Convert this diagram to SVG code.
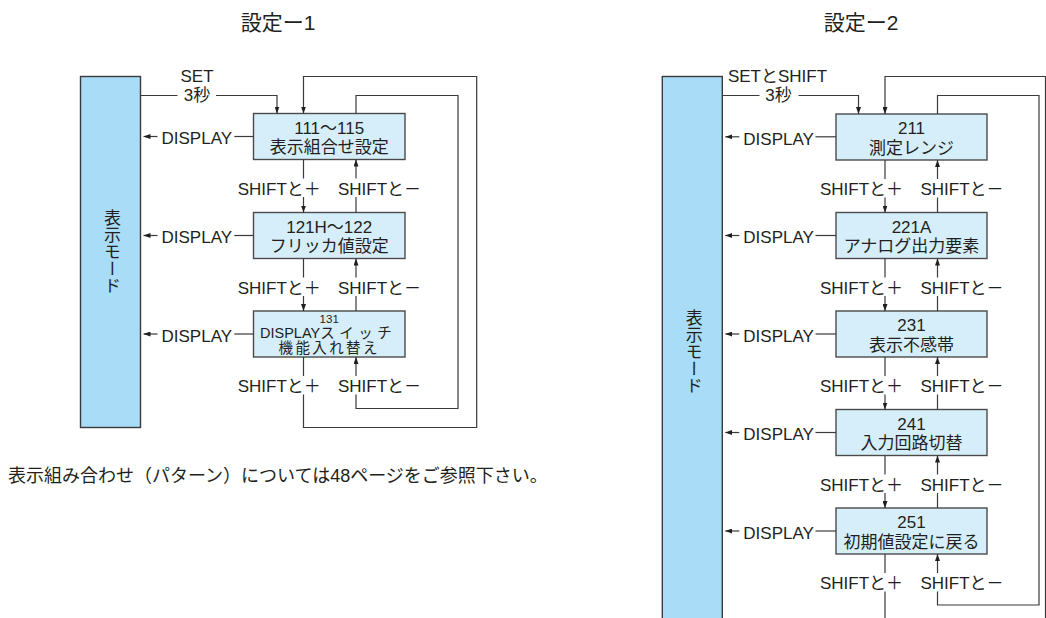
<svg xmlns="http://www.w3.org/2000/svg" width="1046" height="618" viewBox="0 0 1046 618">
<style>
text{font-family:"Liberation Sans","Noto Sans CJK JP",sans-serif;fill:#231f20;font-size:17px}
.t{font-size:21px;text-anchor:middle}
.c{text-anchor:middle}
.bar{fill:#a9dcf6;stroke:#3a3a3a;stroke-width:1.4}
.box{fill:#d5eefa;stroke:#4a4a4a;stroke-width:1.4}
.ln{fill:none;stroke:#3a3a3a;stroke-width:1.2}
.ar{marker-end:url(#ah)}
.vt{writing-mode:vertical-rl;text-anchor:middle}
</style>
<defs>
<marker id="ah" markerUnits="userSpaceOnUse" markerWidth="7" markerHeight="5" refX="7" refY="2.5" orient="auto">
<path d="M0,0 L7,2.5 L0,5 z" fill="#231f20"/>
</marker>
</defs>
<rect width="1046" height="618" fill="#fff"/>

<text class="t" x="278" y="29.5">設定ー1</text>
<text class="t" x="861" y="29.5">設定ー2</text>

<!-- left diagram nodes -->
<g id="l-mode"><rect class="bar" x="80.5" y="76.5" width="60" height="351"/><text class="vt" x="110.5" y="251.7">表示モード</text></g>
<g id="l-111"><rect class="box" x="253.5" y="113.5" width="151.5" height="46"/><text class="c" x="329.2" y="133.5">111〜115</text><text class="c" x="329.2" y="153">表示組合せ設定</text></g>
<g id="l-121"><rect class="box" x="253.5" y="212.5" width="151.5" height="46"/><text class="c" x="329.2" y="232.5">121H〜122</text><text class="c" x="329.2" y="252">フリッカ値設定</text></g>
<g id="l-131"><rect class="box" x="253.5" y="311" width="151.5" height="46"/><text class="c" x="329.2" y="322.5" style="font-size:11.5px">131</text><text x="260" y="337.5" style="font-size:14.5px">DISPLAY<tspan style="letter-spacing:4.5px">スイッチ</tspan></text><text x="278.5" y="352.5" style="font-size:14.5px;letter-spacing:2.4px">機能入れ替え</text></g>

<!-- right diagram nodes -->
<g id="r-mode"><rect class="bar" x="662.3" y="76.5" width="60" height="560"/><text class="vt" x="692.3" y="351.7">表示モード</text></g>
<g id="r-211"><rect class="box" x="836" y="114" width="151" height="46"/><text class="c" x="911.5" y="134">211</text><text class="c" x="911.5" y="153.5">測定レンジ</text></g>
<g id="r-221"><rect class="box" x="836" y="212.5" width="151" height="46"/><text class="c" x="911.5" y="232.5">221A</text><text class="c" x="911.5" y="252">アナログ出力要素</text></g>
<g id="r-231"><rect class="box" x="836" y="311" width="151" height="46"/><text class="c" x="911.5" y="331">231</text><text class="c" x="911.5" y="350.5">表示不感帯</text></g>
<g id="r-241"><rect class="box" x="836" y="409.5" width="151" height="46"/><text class="c" x="911.5" y="429.5">241</text><text class="c" x="911.5" y="449">入力回路切替</text></g>
<g id="r-251"><rect class="box" x="836" y="508" width="151" height="46"/><text class="c" x="911.5" y="528">251</text><text class="c" x="911.5" y="547.5">初期値設定に戻る</text></g>

<!-- connectors -->
<g id="connectors">
<!-- left: entry -->
<path class="ln" d="M140.5,95.5 H177.5"/>
<path class="ln ar" d="M216,95.5 H277 V113.5"/>
<text class="c" x="197" y="81.7">SET</text>
<text class="c" x="197" y="101">3秒</text>
<!-- left DISPLAY -->
<path class="ln ar" d="M157.5,136.5 H143.5"/><text x="161.5" y="144">DISPLAY</text><path class="ln" d="M234.3,136.5 H253.5"/>
<path class="ln ar" d="M157.5,235.5 H143.5"/><text x="161.5" y="243">DISPLAY</text><path class="ln" d="M234.3,235.5 H253.5"/>
<path class="ln ar" d="M157.5,334 H143.5"/><text x="161.5" y="341.5">DISPLAY</text><path class="ln" d="M234.3,334 H253.5"/>
<!-- left down/up -->
<path class="ln" d="M303.5,159.5 V178.5 M356,212.5 V197"/>
<path class="ln ar" d="M303.5,197 V212.5"/><path class="ln ar" d="M356,178.5 V159.5"/>
<text x="237.7" y="194.5">SHIFTと＋</text><text x="338" y="194.5">SHIFTと－</text>
<path class="ln" d="M303.5,258.5 V277.5 M356,311 V296"/>
<path class="ln ar" d="M303.5,296 V311"/><path class="ln ar" d="M356,277.5 V258.5"/>
<text x="237.7" y="293.5">SHIFTと＋</text><text x="338" y="293.5">SHIFTと－</text>
<path class="ln" d="M303.5,357 V376"/>
<path class="ln ar" d="M303.5,394.5 V427.5 H476.7 V76.5 H303.5 V113.5"/>
<path class="ln" d="M356,113.5 V95.5 H458 V408.5 H356 V394.5"/>
<path class="ln ar" d="M356,376 V357"/>
<text x="237.7" y="392">SHIFTと＋</text><text x="338" y="392">SHIFTと－</text>

<!-- right: entry -->
<path class="ln" d="M722.3,95.5 H759.5"/>
<path class="ln ar" d="M798.5,95.5 H858.5 V114"/>
<text class="c" x="777.5" y="81.7">SETとSHIFT</text>
<text class="c" x="778.5" y="101">3秒</text>
<!-- right DISPLAY -->
<path class="ln ar" d="M739.3,136.8 H725.3"/><text x="743.3" y="144.5">DISPLAY</text><path class="ln" d="M815.5,136.8 H836"/>
<path class="ln ar" d="M739.3,235.5 H725.3"/><text x="743.3" y="243">DISPLAY</text><path class="ln" d="M815.5,235.5 H836"/>
<path class="ln ar" d="M739.3,334 H725.3"/><text x="743.3" y="341.5">DISPLAY</text><path class="ln" d="M815.5,334 H836"/>
<path class="ln ar" d="M739.3,432.5 H725.3"/><text x="743.3" y="440">DISPLAY</text><path class="ln" d="M815.5,432.5 H836"/>
<path class="ln ar" d="M739.3,531 H725.3"/><text x="743.3" y="538.5">DISPLAY</text><path class="ln" d="M815.5,531 H836"/>
<!-- right down/up -->
<path class="ln" d="M885,160 V179 M937.5,212.5 V197.5"/>
<path class="ln ar" d="M885,197.5 V212.5"/><path class="ln ar" d="M937.5,179 V160"/>
<text x="820" y="195">SHIFTと＋</text><text x="920.5" y="195">SHIFTと－</text>
<path class="ln" d="M885,258.5 V277.5 M937.5,311 V296"/>
<path class="ln ar" d="M885,296 V311"/><path class="ln ar" d="M937.5,277.5 V258.5"/>
<text x="820" y="293.5">SHIFTと＋</text><text x="920.5" y="293.5">SHIFTと－</text>
<path class="ln" d="M885,357 V376 M937.5,409.5 V394.5"/>
<path class="ln ar" d="M885,394.5 V409.5"/><path class="ln ar" d="M937.5,376 V357"/>
<text x="820" y="392">SHIFTと＋</text><text x="920.5" y="392">SHIFTと－</text>
<path class="ln" d="M885,455.5 V474.5 M937.5,508 V493"/>
<path class="ln ar" d="M885,493 V508"/><path class="ln ar" d="M937.5,474.5 V455.5"/>
<text x="820" y="490.5">SHIFTと＋</text><text x="920.5" y="490.5">SHIFTと－</text>
<path class="ln" d="M885,554 V573"/>
<path class="ln ar" d="M885,591.5 V625 H1045.5 V76.5 H885 V114"/>
<path class="ln" d="M937.5,114 V95.5 H1039 V605 H937.5 V591.5"/>
<path class="ln ar" d="M937.5,573 V554"/>
<text x="820" y="589">SHIFTと＋</text><text x="920.5" y="589">SHIFTと－</text>
</g>

<text x="8" y="482" style="font-size:18px">表示組み合わせ（パターン）については48ページをご参照下さい。</text>
</svg>
